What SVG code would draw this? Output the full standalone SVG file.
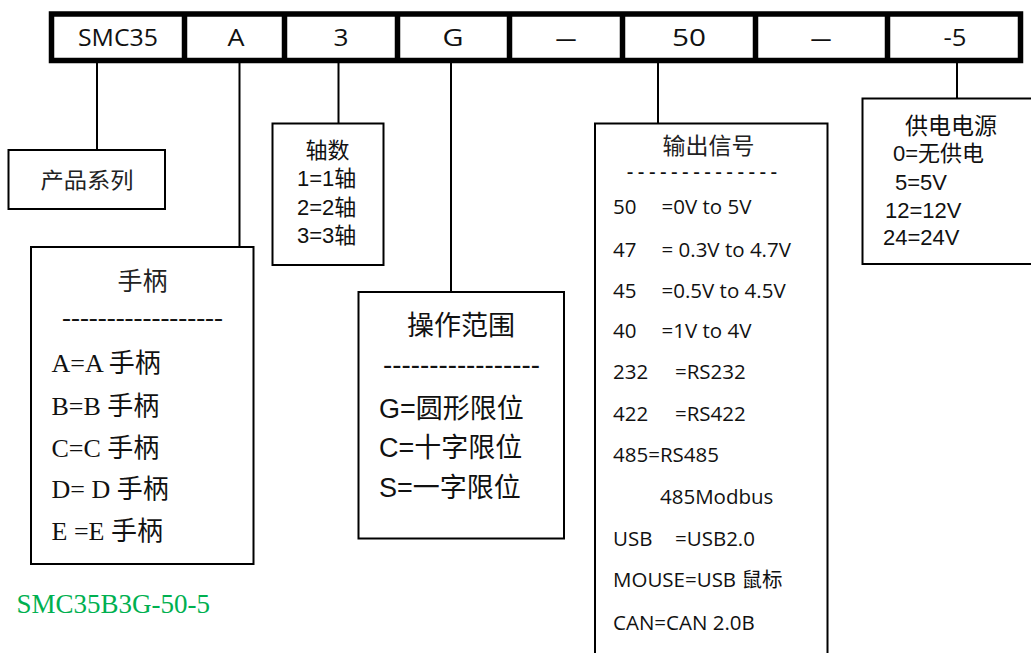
<svg xmlns="http://www.w3.org/2000/svg" width="1031" height="653" viewBox="0 0 1031 653">
<style>
.box{fill:#fff;stroke:#000;stroke-width:2}
.con{stroke:#000;stroke-width:2;fill:none}
.bar{fill:#fff;stroke:#000;stroke-width:5.5}
.div{stroke:#000;stroke-width:5.5}
.top{font-family:"Open Sans","Noto Sans",sans-serif;font-size:23px;fill:#111;text-anchor:middle}
.cjk{font-family:"Noto Sans CJK SC",sans-serif;fill:#222}
.serif{font-family:"Liberation Serif","Noto Sans CJK SC",serif;font-size:26px;fill:#111}
.arial{font-family:"Liberation Sans","Noto Sans CJK SC",sans-serif;fill:#111}
.cal{font-family:"Open Sans","Noto Sans CJK SC",sans-serif;font-size:20.5px;fill:#111}
.green{font-family:"Liberation Serif",serif;font-size:27px;fill:#00B050}
</style>
<rect width="1031" height="653" fill="#fff"/>
<g id="connectors">
<line class="con" x1="97" y1="62" x2="97" y2="150"/>
<line class="con" x1="239.5" y1="62" x2="239.5" y2="247"/>
<line class="con" x1="338.5" y1="62" x2="338.5" y2="123.5"/>
<line class="con" x1="451" y1="62" x2="451" y2="292"/>
<line class="con" x1="658" y1="62" x2="658" y2="123.5"/>
<line class="con" x1="957" y1="62" x2="957" y2="98.5"/>
</g>
<g id="code-bar">
<rect class="bar" x="51.5" y="14" width="969" height="46.5"/>
<line class="div" x1="184.5" y1="14" x2="184.5" y2="60.5"/>
<line class="div" x1="284.5" y1="14" x2="284.5" y2="60.5"/>
<line class="div" x1="397.5" y1="14" x2="397.5" y2="60.5"/>
<line class="div" x1="509.5" y1="14" x2="509.5" y2="60.5"/>
<line class="div" x1="622.5" y1="14" x2="622.5" y2="60.5"/>
<line class="div" x1="755.5" y1="14" x2="755.5" y2="60.5"/>
<line class="div" x1="887.5" y1="14" x2="887.5" y2="60.5"/>
<text class="top" x="118" y="46" textLength="80" lengthAdjust="spacingAndGlyphs">SMC35</text>
<text class="top" x="236" y="46" textLength="17" lengthAdjust="spacingAndGlyphs">A</text>
<text class="top" x="341" y="46" textLength="15" lengthAdjust="spacingAndGlyphs">3</text>
<text class="top" x="453" y="46" textLength="21" lengthAdjust="spacingAndGlyphs">G</text>
<text class="top" x="566" y="47" textLength="21" lengthAdjust="spacingAndGlyphs">—</text>
<text class="top" x="689" y="46" textLength="34" lengthAdjust="spacingAndGlyphs">50</text>
<text class="top" x="821" y="47" textLength="21" lengthAdjust="spacingAndGlyphs">—</text>
<text class="top" x="955" y="46" textLength="23" lengthAdjust="spacingAndGlyphs">-5</text>
</g>
<g id="series">
<rect class="box" x="8.5" y="150" width="156.5" height="59"/>
<text class="cjk" x="87" y="188" font-size="22" text-anchor="middle" textLength="93" lengthAdjust="spacingAndGlyphs">产品系列</text>
</g>
<g id="handle">
<rect class="box" x="31" y="247" width="222.5" height="317"/>
<text class="cjk" x="142.5" y="290" font-size="25" text-anchor="middle">手柄</text>
<text class="serif" x="62" y="326" textLength="161" lengthAdjust="spacingAndGlyphs">------------------</text>
<text class="serif" x="51.5" y="372">A=A 手柄</text>
<text class="serif" x="51.5" y="415">B=B 手柄</text>
<text class="serif" x="51.5" y="457">C=C 手柄</text>
<text class="serif" x="51.5" y="498">D= D 手柄</text>
<text class="serif" x="51.5" y="540">E =E 手柄</text>
</g>
<g id="axes">
<rect class="box" x="272.5" y="123.5" width="111" height="141.5"/>
<text class="arial" x="327.5" y="158" font-size="22" text-anchor="middle">轴数</text>
<text class="arial" x="297" y="186" font-size="22">1=1轴</text>
<text class="arial" x="297" y="215" font-size="22">2=2轴</text>
<text class="arial" x="297" y="243" font-size="22">3=3轴</text>
</g>
<g id="range">
<rect class="box" x="358.5" y="292" width="205.5" height="246.5"/>
<text class="arial" x="461" y="335" font-size="27" text-anchor="middle">操作范围</text>
<text class="arial" x="383" y="374" font-size="27" textLength="157" lengthAdjust="spacingAndGlyphs">-----------------</text>
<text class="arial" x="379" y="418" font-size="27">G=圆形限位</text>
<text class="arial" x="379" y="457" font-size="27">C=十字限位</text>
<text class="arial" x="379" y="497" font-size="27">S=一字限位</text>
</g>
<g id="output">
<rect class="box" x="595" y="123.5" width="232.5" height="545"/>
<text class="cjk" x="708.5" y="154" font-size="23" text-anchor="middle">输出信号</text>
<text x="627" y="177" font-family="Open Sans, sans-serif" font-size="15" font-weight="bold" fill="#111" textLength="150" lengthAdjust="spacingAndGlyphs">- - - - - - - - - - - - - -</text>
<text class="cal" y="214"><tspan x="613">50</tspan><tspan x="661.5">=0V to 5V</tspan></text>
<text class="cal" y="257"><tspan x="613">47</tspan><tspan x="661.5">= 0.3V to 4.7V</tspan></text>
<text class="cal" y="298"><tspan x="613">45</tspan><tspan x="661.5">=0.5V to 4.5V</tspan></text>
<text class="cal" y="338"><tspan x="613">40</tspan><tspan x="661.5">=1V to 4V</tspan></text>
<text class="cal" y="379"><tspan x="613">232</tspan><tspan x="675">=RS232</tspan></text>
<text class="cal" y="421"><tspan x="613">422</tspan><tspan x="675">=RS422</tspan></text>
<text class="cal" x="613" y="462">485=RS485</text>
<text class="cal" x="660" y="504">485Modbus</text>
<text class="cal" y="546"><tspan x="613">USB</tspan><tspan x="675">=USB2.0</tspan></text>
<text class="cal" x="613" y="587">MOUSE=USB 鼠标</text>
<text class="cal" x="613" y="630">CAN=CAN 2.0B</text>
</g>
<g id="power">
<rect class="box" x="862.5" y="98.5" width="180" height="165.5"/>
<text class="arial" x="905" y="134" font-size="23">供电电源</text>
<text class="arial" x="893" y="161" font-size="22">0=无供电</text>
<text class="arial" x="895" y="190" font-size="22">5=5V</text>
<text class="arial" x="885" y="218" font-size="22">12=12V</text>
<text class="arial" x="883" y="245" font-size="22">24=24V</text>
</g>
<text id="example" class="green" x="16.5" y="613">SMC35B3G-50-5</text>
</svg>
